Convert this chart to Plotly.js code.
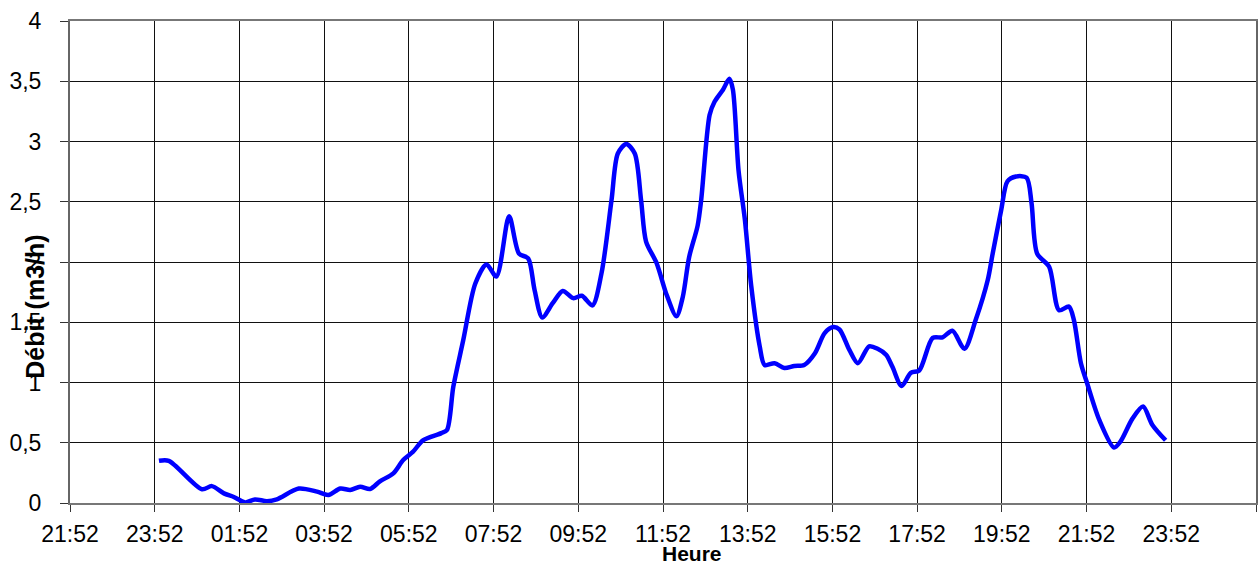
<!DOCTYPE html>
<html>
<head>
<meta charset="utf-8">
<script src="https://cdn.plot.ly/plotly-3.0.1.min.js"></script>
<style>
  html, body { margin: 0; padding: 0; background: #fff; }
  #chart { width: 1260px; height: 567px; }
</style>
</head>
<body>
<div id="chart"></div>
<script>
// Time of each reading (day 1 evening to day 2 evening)
const times = [
  '2024-01-01 23:58', '2024-01-02 00:12', '2024-01-02 00:59', '2024-01-02 01:13',
  '2024-01-02 01:30', '2024-01-02 01:44', '2024-01-02 02:00', '2024-01-02 02:14',
  '2024-01-02 02:31', '2024-01-02 02:45', '2024-01-02 03:16', '2024-01-02 03:42',
  '2024-01-02 03:58', '2024-01-02 04:15', '2024-01-02 04:29', '2024-01-02 04:43',
  '2024-01-02 04:57', '2024-01-02 05:11', '2024-01-02 05:30', '2024-01-02 05:44',
  '2024-01-02 05:58', '2024-01-02 06:12', '2024-01-02 06:38', '2024-01-02 06:46',
  '2024-01-02 06:55', '2024-01-02 07:09', '2024-01-02 07:26', '2024-01-02 07:42',
  '2024-01-02 07:56', '2024-01-02 08:14', '2024-01-02 08:28', '2024-01-02 08:41',
  '2024-01-02 08:50', '2024-01-02 09:01', '2024-01-02 09:16', '2024-01-02 09:30',
  '2024-01-02 09:45', '2024-01-02 09:57', '2024-01-02 10:12', '2024-01-02 10:25',
  '2024-01-02 10:39', '2024-01-02 10:48', '2024-01-02 11:00', '2024-01-02 11:12',
  '2024-01-02 11:21', '2024-01-02 11:28', '2024-01-02 11:43', '2024-01-02 11:57',
  '2024-01-02 12:11', '2024-01-02 12:20', '2024-01-02 12:29', '2024-01-02 12:41',
  '2024-01-02 12:46', '2024-01-02 12:58', '2024-01-02 13:05', '2024-01-02 13:17',
  '2024-01-02 13:26', '2024-01-02 13:31', '2024-01-02 13:39', '2024-01-02 13:48',
  '2024-01-02 13:57', '2024-01-02 14:09', '2024-01-02 14:16', '2024-01-02 14:30',
  '2024-01-02 14:44', '2024-01-02 14:58', '2024-01-02 15:12', '2024-01-02 15:27',
  '2024-01-02 15:41', '2024-01-02 15:53', '2024-01-02 16:02', '2024-01-02 16:16',
  '2024-01-02 16:28', '2024-01-02 16:44', '2024-01-02 16:56', '2024-01-02 17:08',
  '2024-01-02 17:17', '2024-01-02 17:30', '2024-01-02 17:43', '2024-01-02 17:55',
  '2024-01-02 18:14', '2024-01-02 18:28', '2024-01-02 18:42', '2024-01-02 18:59',
  '2024-01-02 19:15', '2024-01-02 19:32', '2024-01-02 19:39', '2024-01-02 19:51',
  '2024-01-02 20:00', '2024-01-02 20:12', '2024-01-02 20:27', '2024-01-02 20:34',
  '2024-01-02 20:42', '2024-01-02 20:59', '2024-01-02 21:13', '2024-01-02 21:27',
  '2024-01-02 21:34', '2024-01-02 21:44', '2024-01-02 21:53', '2024-01-02 22:10',
  '2024-01-02 22:31', '2024-01-02 22:40', '2024-01-02 22:57', '2024-01-02 23:12',
  '2024-01-02 23:25', '2024-01-02 23:44'
];

// Flow (m3/h)
const debit = [
  0.35, 0.35, 0.114, 0.14,
  0.08, 0.05, 0.005, 0.03,
  0.015, 0.03, 0.12, 0.094,
  0.066, 0.12, 0.108, 0.135,
  0.116, 0.18, 0.246, 0.357,
  0.426, 0.52, 0.58, 0.606,
  0.965, 1.35, 1.82, 1.98,
  1.88, 2.38, 2.07, 2.03,
  1.77, 1.54, 1.66, 1.76,
  1.70, 1.72, 1.64, 1.91,
  2.51, 2.90, 2.98, 2.90,
  2.51, 2.17, 1.99, 1.73,
  1.55, 1.71, 2.04, 2.30,
  2.51, 3.22, 3.33, 3.43,
  3.52, 3.43, 2.76, 2.35,
  1.80, 1.30, 1.145, 1.16,
  1.12, 1.137, 1.145, 1.24,
  1.41, 1.46, 1.44, 1.27,
  1.16, 1.30, 1.28, 1.23,
  1.13, 0.97, 1.08, 1.10,
  1.37, 1.375, 1.43, 1.28,
  1.52, 1.85, 2.07, 2.43,
  2.67, 2.71, 2.70, 2.49,
  2.07, 1.96, 1.60, 1.63,
  1.52, 1.16, 0.99, 0.69,
  0.46, 0.51, 0.70, 0.80,
  0.65, 0.52
];

const xRange = ['2024-01-01 21:52', '2024-01-03 01:52'];
const xTick0 = '2024-01-01 21:52';
const yTitle = 'Débit (m3/h)';
const xTitle = 'Heure';

const font = 'Liberation Sans, Arial, sans-serif';

const trace = {
  type: 'scatter',
  mode: 'lines',
  x: times,
  y: debit,
  line: { color: '#0000FF', width: 4.5, shape: 'spline', smoothing: 0.8 },
  hoverinfo: 'x+y'
};

const layout = {
  width: 1260,
  height: 567,
  margin: { l: 70, r: 4, t: 21, b: 64, pad: 0 },
  paper_bgcolor: '#ffffff',
  plot_bgcolor: '#ffffff',
  showlegend: false,
  separators: ', ',
  font: { family: font, size: 22, color: '#000' },
  xaxis: {
    type: 'date',
    range: xRange,
    tick0: xTick0,
    dtick: 7200000,
    tickformat: '%H:%M',
    showgrid: true,
    gridcolor: '#111',
    gridwidth: 1,
    showline: true,
    linecolor: '#777',
    linewidth: 2,
    mirror: true,
    ticks: 'outside',
    ticklen: 7,
    tickwidth: 1,
    tickcolor: '#333',
    ticklabelstandoff: 2,
    tickfont: { family: font, size: 23, color: '#000' },
    zeroline: false,
    fixedrange: true
  },
  yaxis: {
    range: [0, 4],
    dtick: 0.5,
    tick0: 0,
    showgrid: true,
    gridcolor: '#111',
    gridwidth: 1,
    showline: true,
    linecolor: '#666',
    linewidth: 2,
    mirror: true,
    ticks: 'outside',
    ticklen: 8,
    tickwidth: 1,
    tickcolor: '#333',
    ticklabelstandoff: 14,
    tickfont: { family: font, size: 23, color: '#000' },
    zeroline: false,
    fixedrange: true
  },
  annotations: [
    {
      text: '<b>' + xTitle + '</b>',
      xref: 'paper', yref: 'paper',
      x: 0.5244, y: -0.104,
      xanchor: 'center', yanchor: 'middle',
      showarrow: false,
      borderpad: 0,
      font: { family: font, size: 21, color: '#000' }
    },
    {
      text: '<b>' + yTitle + '</b>',
      xref: 'paper', yref: 'paper',
      x: -0.0291, y: 0.408,
      xanchor: 'center', yanchor: 'middle',
      textangle: -90,
      showarrow: false,
      font: { family: font, size: 25, color: '#000' }
    }
  ]
};

Plotly.newPlot('chart', [trace], layout, { displayModeBar: false, staticPlot: true });
</script>
</body>
</html>
